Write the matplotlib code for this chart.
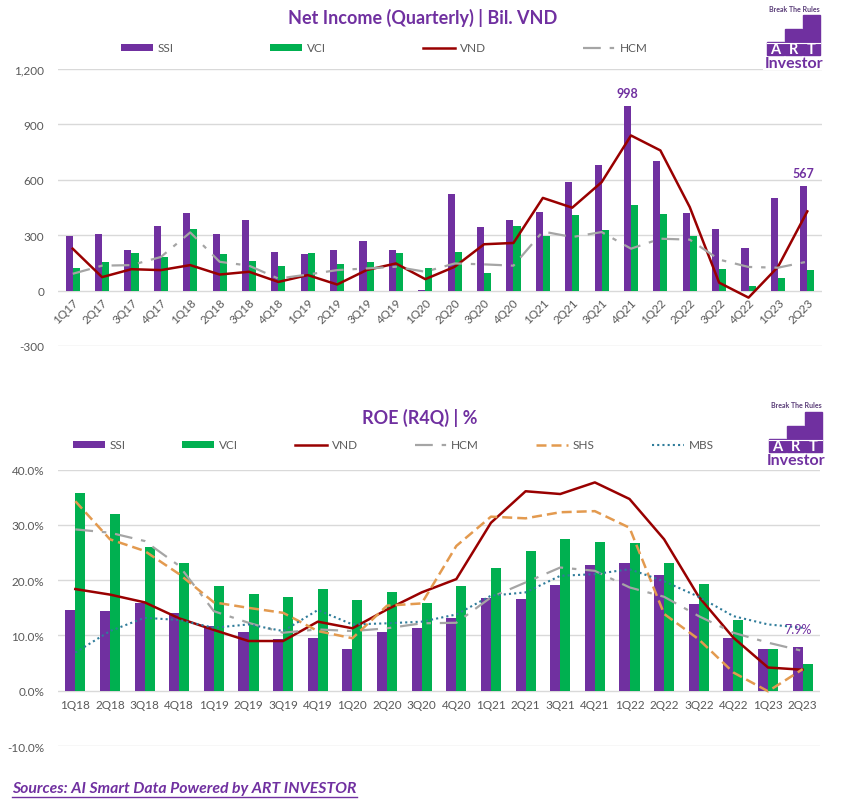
import matplotlib.pyplot as plt
from matplotlib.patches import Rectangle
from matplotlib.lines import Line2D
from matplotlib.ticker import FuncFormatter

plt.rcParams['font.family'] = ['Lato', 'DejaVu Sans']

W, H = 841, 803
PURPLE = "#7030A0"
GREEN = "#00B050"
RED = "#990000"
GRAY = "#A5A5A5"
ORANGE = "#E39A4F"
TEAL = "#2F7C9A"
TXT = "#595959"

# ---- data: net income (bil. VND) ----
quarters_ni = ["1Q17", "2Q17", "3Q17", "4Q17", "1Q18", "2Q18", "3Q18", "4Q18",
               "1Q19", "2Q19", "3Q19", "4Q19", "1Q20", "2Q20", "3Q20", "4Q20",
               "1Q21", "2Q21", "3Q21", "4Q21", "1Q22", "2Q22", "3Q22", "4Q22",
               "1Q23", "2Q23"]
ssi_ni = [295, 305, 218, 349, 420, 305, 382, 207, 196, 218, 267, 218, 4, 524,
          344, 382, 425, 589, 681, 998, 703, 422, 335, 232, 503, 567]
vci_ni = [120, 153, 202, 180, 333, 196, 158, 131, 202, 142, 153, 202, 120, 207,
          93, 349, 295, 411, 330, 465, 416, 297, 119, 27, 70, 114]
vnd_ni = [227, 73, 116, 111, 138, 87, 102, 47, 84, 33, 111, 147, 62, 129,
          251, 258, 502, 449, 587, 840, 759, 452, 43, -38, 128, 429]
hcm_ni = [91, 135, 138, 182, 315, 156, 135, 65, 87, 111, 120, 129, 102, 147,
          142, 135, 320, 290, 317, 227, 281, 276, 168, 128, 124, 157]

# ---- data: ROE (R4Q) ----
quarters_roe = ["1Q18", "2Q18", "3Q18", "4Q18", "1Q19", "2Q19", "3Q19", "4Q19",
                "1Q20", "2Q20", "3Q20", "4Q20", "1Q21", "2Q21", "3Q21", "4Q21",
                "1Q22", "2Q22", "3Q22", "4Q22", "1Q23", "2Q23"]
ssi_roe = [14.6, 14.4, 15.8, 14.1, 11.7, 10.6, 9.3, 9.5, 7.5, 10.6, 11.3, 13.1,
           16.7, 16.6, 19.1, 22.7, 23.1, 20.9, 15.7, 9.5, 7.5, 7.9]
vci_roe = [35.7, 31.9, 26.1, 23.2, 18.9, 17.5, 16.9, 18.5, 16.4, 17.8, 15.8, 18.9,
           22.3, 25.2, 27.4, 27.0, 26.8, 23.2, 19.3, 12.8, 7.5, 4.8]
vnd_roe = [18.4, 17.4, 16.0, 13.1, 11.0, 9.0, 9.0, 12.5, 11.3, 14.7, 17.8, 20.2,
           30.4, 36.1, 35.6, 37.7, 34.7, 27.4, 17.0, 9.6, 4.2, 3.8]
hcm_roe = [29.2, 28.6, 27.1, 22.6, 14.4, 12.3, 10.5, 11.1, 10.8, 11.3, 12.2, 12.3,
           16.9, 19.6, 22.3, 21.7, 18.7, 17.0, 13.5, 10.5, 8.7, 7.2]
shs_roe = [34.3, 27.4, 25.3, 21.1, 16.0, 15.0, 14.1, 10.8, 9.5, 15.4, 15.8, 26.2,
           31.5, 31.2, 32.3, 32.5, 29.5, 13.9, 9.3, 3.3, -0.1, 3.9]
mbs_roe = [6.9, 10.8, 13.2, 12.8, 11.4, 12.0, 10.8, 14.6, 12.0, 12.2, 12.5, 13.8,
           17.2, 17.8, 20.8, 21.1, 22.0, 19.8, 17.0, 13.5, 12.0, 11.4]

fig = plt.figure(figsize=(W / 100, H / 100), dpi=100)


def px_axes(x0, y0, x1, y1):
    return fig.add_axes([x0 / W, 1 - y1 / H, (x1 - x0) / W, (y1 - y0) / H])


def style_axes(ax):
    for s in ["top", "right", "left"]:
        ax.spines[s].set_visible(False)
    ax.spines["bottom"].set_position(("data", 0))
    ax.spines["bottom"].set_visible(False)
    ax.grid(axis="y", color="#D9D9D9", lw=1)
    ax.set_axisbelow(True)
    ax.tick_params(length=0, colors=TXT, labelsize=8.5)


def draw_logo(x0, y0):
    lg = px_axes(x0, y0, x0 + 62, y0 + 68)
    lg.set_xlim(0, 62)
    lg.set_ylim(68, 0)
    lg.axis("off")
    lg.add_patch(Rectangle((0, 0), 62, 68, color="white"))
    lg.text(31, 6, "Break The Rules", ha="center", va="center",
            fontsize=5, fontweight="bold", color="#5a3d78")
    for bx, top, ch in [(4, 40, "A"), (22, 27, "R"), (40, 13, "T")]:
        lg.add_patch(Rectangle((bx, top), 16.5, 53 - top, color=PURPLE))
        lg.plot([bx, bx + 16.5], [40.5, 40.5], color="white", lw=0.8)
        lg.text(bx + 8.25, 47, ch, ha="center", va="center", fontsize=10.5,
                fontweight="bold", color="white")
    lg.text(31, 61, "Investor", ha="center", va="center", fontsize=11.5,
            fontweight="bold", color=PURPLE)


# ---------------- top chart ----------------
ax1 = px_axes(58, 70, 822, 347)
style_axes(ax1)
x = list(range(len(quarters_ni)))
bw = 0.24
b1 = ax1.bar([i - bw / 2 for i in x], ssi_ni, bw, color=PURPLE, label="SSI")
b2 = ax1.bar([i + bw / 2 for i in x], vci_ni, bw, color=GREEN, label="VCI")
l1, = ax1.plot(x, vnd_ni, color=RED, lw=1.8, label="VND")
l2, = ax1.plot(x, hcm_ni, color=GRAY, lw=1.6, dashes=(8, 4, 2, 4), label="HCM")
ax1.set_xlim(-0.5, len(x) - 0.5)
ax1.set_ylim(-300, 1200)
ax1.set_yticks(range(-300, 1201, 300))
ax1.yaxis.set_major_formatter(FuncFormatter(lambda v, p: f"{int(v):,}"))
ax1.set_xticks(x)
ax1.set_xticklabels(quarters_ni, rotation=45, ha="right", va="top",
                    rotation_mode="anchor")
ax1.tick_params(axis="x", pad=4)
ax1.tick_params(axis="y", pad=10)
for i in [19, 25]:
    ax1.annotate(f"{ssi_ni[i]}", (i - bw / 2, ssi_ni[i]), xytext=(0, 5),
                 textcoords="offset points", ha="center", va="bottom",
                 fontsize=9, fontweight="bold", color=PURPLE)
fig.text(423 / W, 1 - 18 / H, "Net Income (Quarterly) | Bil. VND", ha="center",
         va="center", fontsize=13, fontweight="bold", color=PURPLE)
fig.legend([b1, b2, l1, l2], ["SSI", "VCI", "VND", "HCM"], loc="center left",
           bbox_to_anchor=(110 / W, 1 - 49 / H, 548 / W, 0),
           mode="expand", ncol=4, frameon=False, fontsize=8.5, handlelength=2.7,
           handleheight=0.5, labelcolor=TXT, handletextpad=0.4)

# ---------------- bottom chart ----------------
ax2 = px_axes(58, 470.7, 820, 747)
style_axes(ax2)
x2 = list(range(len(quarters_roe)))
bw2 = 0.29
c1 = ax2.bar([i - bw2 / 2 for i in x2], [v / 100 for v in ssi_roe], bw2, color=PURPLE)
c2 = ax2.bar([i + bw2 / 2 for i in x2], [v / 100 for v in vci_roe], bw2, color=GREEN)
m1, = ax2.plot(x2, [v / 100 for v in vnd_roe], color=RED, lw=1.8)
m2, = ax2.plot(x2, [v / 100 for v in hcm_roe], color=GRAY, lw=1.6, dashes=(8, 4, 2, 4))
m3, = ax2.plot(x2, [v / 100 for v in shs_roe], color=ORANGE, lw=1.8, dashes=(4, 2))
m4, = ax2.plot(x2, [v / 100 for v in mbs_roe], color=TEAL, lw=1.5, dashes=(1, 1.5))
ax2.set_xlim(-0.5, len(x2) - 0.5)
ax2.set_ylim(-0.10, 0.40)
ax2.set_yticks([-0.1, 0.0, 0.1, 0.2, 0.3, 0.4])
ax2.yaxis.set_major_formatter(FuncFormatter(lambda v, p: f"{v * 100:.1f}%"))
ax2.set_xticks(x2)
ax2.set_xticklabels(quarters_roe)
ax2.tick_params(axis="x", pad=6)
ax2.tick_params(axis="y", pad=10)
ax2.annotate(f"{ssi_roe[-1]:.1f}%", (x2[-1] - bw2 / 2, ssi_roe[-1] / 100),
             xytext=(0, 9), textcoords="offset points", ha="center", va="bottom",
             fontsize=9, color=PURPLE)
fig.text(420 / W, 1 - 418 / H, "ROE (R4Q) | %", ha="center", va="center",
         fontsize=13, fontweight="bold", color=PURPLE)
fig.legend([c1, c2, m1, m2, m3, m4], ["SSI", "VCI", "VND", "HCM", "SHS", "MBS"],
           loc="center left", bbox_to_anchor=(62 / W, 1 - 446 / H, 662 / W, 0),
           mode="expand", ncol=6, frameon=False, fontsize=8.5, handlelength=2.7,
           handleheight=0.5, labelcolor=TXT, handletextpad=0.4)

draw_logo(763, 3)
draw_logo(765, 400)

# source line with underline
src = fig.text(12 / W, 1 - 789 / H, "Sources: AI Smart Data Powered by ART INVESTOR",
               ha="left", va="center", fontsize=11.3, fontweight="bold",
               fontstyle="italic", color=PURPLE)
fig.canvas.draw()
bb = src.get_window_extent()
fig.add_artist(Line2D([bb.x0 / W, bb.x1 / W], [1 - 798 / H, 1 - 798 / H],
                      color=PURPLE, lw=1))

fig.savefig("out.png", dpi=100, facecolor="white")
